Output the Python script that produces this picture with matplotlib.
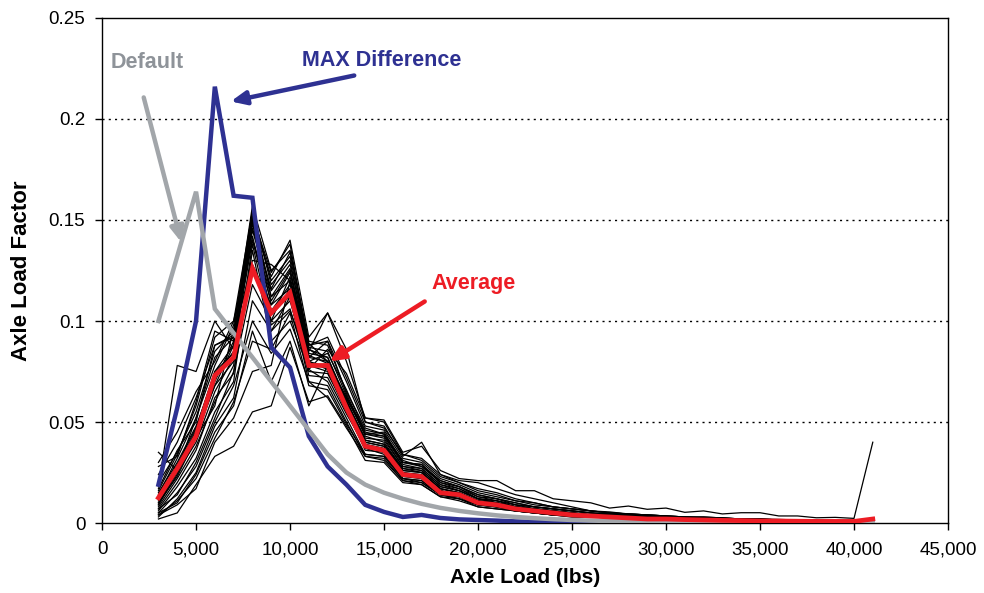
import numpy as np
import matplotlib
matplotlib.use("Agg")
import matplotlib.pyplot as plt
from matplotlib.ticker import FuncFormatter

plt.rcParams['font.family'] = ['Liberation Sans Narrow', 'Liberation Sans', 'DejaVu Sans']

axle_load = [3000, 4000, 5000, 6000, 7000, 8000, 9000, 10000, 11000, 12000,
             13000, 14000, 15000, 16000, 17000, 18000, 19000, 20000, 21000, 22000,
             23000, 24000, 25000, 26000, 27000, 28000, 29000, 30000, 31000, 32000,
             33000, 34000, 35000, 36000, 37000, 38000, 39000, 40000, 41000]

max_difference = [0.019, 0.057, 0.100, 0.216, 0.162, 0.161, 0.087, 0.077, 0.043, 0.028,
                  0.019, 0.009, 0.0055, 0.003, 0.004, 0.0025, 0.0018, 0.0015, 0.0012, 0.0008,
                  0.0005, 0.0004, 0.0003, 0.0002, 0.0002, 0.0001, 0.0001, 0.0001, 0.0001, 0.0,
                  0.0, 0.0, 0.0, 0.0, 0.0, 0.0, 0.0, 0.0, 0.0]

default = [0.100, 0.132, 0.164, 0.106, 0.094, 0.082, 0.070, 0.058, 0.046, 0.034,
           0.025, 0.019, 0.015, 0.012, 0.0095, 0.0075, 0.006, 0.0048, 0.0038, 0.003,
           0.0024, 0.0019, 0.0015, 0.0012, 0.001, 0.0008, 0.0007, 0.0006, 0.0005, 0.0004,
           0.0004, 0.0003, 0.0003, 0.0003, 0.0002, 0.0002, 0.0002, 0.0002, 0.0002]

average = [0.0125, 0.027, 0.043, 0.073, 0.082, 0.126, 0.104, 0.114, 0.078, 0.078,
           0.057, 0.038, 0.036, 0.024, 0.023, 0.015, 0.014, 0.010, 0.009, 0.007,
           0.006, 0.005, 0.004, 0.0035, 0.003, 0.0025, 0.002, 0.002, 0.0017, 0.0015,
           0.0013, 0.0012, 0.001, 0.001, 0.0009, 0.0008, 0.0008, 0.0008, 0.002]

# individual sites, in units of 0.001
sites = [
    [18, 78, 75, 100, 86, 140, 110, 125, 86, 80, 62, 46, 44, 31, 28, 21, 18, 14, 12, 10, 8, 7, 6, 5, 4.5, 4, 3.5, 3, 2.5, 2.5, 2, 2, 1.5, 1.5, 1.2, 1.2, 1, 1, 1.2],
    [35, 26, 52, 82, 92, 155, 118, 130, 84, 82, 60, 42, 41, 28, 26, 18, 16, 12, 10, 8, 7, 6, 5, 4, 3.5, 3, 3, 2.5, 2, 2, 1.8, 1.5, 1.5, 1.2, 1, 1, 0.8, 0.8, 1],
    [2, 5, 19, 33, 38, 55, 58, 87, 60, 63, 48, 31, 30, 20, 19, 13, 11, 8, 7, 6, 5, 4, 3, 3, 2.5, 2, 2, 1.5, 1.5, 1.2, 1, 1, 0.8, 0.8, 0.6, 0.6, 0.5, 0.5, 0.5],
    [4, 9, 17, 40, 52, 75, 78, 120, 80, 76, 57, 39, 37, 25, 23, 16, 14, 10, 9, 7, 6, 5, 4, 3.5, 3, 3, 2.5, 2, 2, 1.5, 1.5, 1.2, 1, 1, 1, 0.8, 0.8, 0.8, 1],
    [10, 25, 40, 65, 82, 150, 100, 110, 78, 75, 55, 37, 34, 22, 21, 14, 13, 9, 8, 7, 6, 5, 4, 3, 3, 2.5, 2, 2, 1.5, 1.5, 1.2, 1, 1, 0.8, 0.8, 0.8, 0.6, 0.6, 1.5],
    [8, 22, 38, 60, 78, 152, 95, 105, 80, 77, 60, 40, 38, 25, 24, 16, 14, 10, 9, 7, 6, 5, 4, 3.5, 3, 3, 2.5, 2, 2, 1.5, 1.5, 1.2, 1.2, 1, 1, 0.8, 0.8, 0.8, 0.8],
    [15, 30, 48, 72, 85, 145, 112, 120, 88, 90, 70, 48, 46, 32, 30, 22, 19, 15, 13, 11, 9, 8, 7, 6, 5, 4.5, 4, 3.5, 3, 3, 2.5, 2, 2, 1.8, 1.5, 1.5, 1.2, 1.2, 1.2],
    [12, 28, 45, 68, 80, 128, 108, 116, 79, 78, 56, 36, 35, 23, 22, 15, 14, 10, 9, 7, 6, 5, 4, 4, 3.5, 3, 2.5, 2.5, 2, 2, 1.5, 1.5, 1.2, 1.2, 1, 1, 0.8, 0.8, 0.8],
    [6, 18, 32, 55, 70, 135, 90, 100, 76, 70, 52, 34, 33, 22, 20, 14, 12, 9, 8, 6, 5, 4, 4, 3, 3, 2.5, 2, 2, 1.5, 1.5, 1.2, 1.2, 1, 1, 0.8, 0.8, 0.6, 0.6, 0.6],
    [20, 35, 55, 85, 95, 157, 125, 135, 90, 88, 65, 47, 44, 30, 29, 20, 18, 13, 12, 9, 8, 7, 6, 5, 4.5, 4, 3.5, 3, 2.5, 2.5, 2, 2, 1.5, 1.5, 1.2, 1.2, 1, 1, 1],
    [3, 12, 25, 48, 62, 110, 95, 112, 73, 72, 54, 38, 36, 24, 22, 15, 13, 10, 9, 7, 6, 5, 4, 3.5, 3, 2.5, 2.5, 2, 1.5, 1.5, 1.2, 1.2, 1, 1, 0.8, 0.8, 0.8, 0.6, 0.8],
    [14, 32, 52, 78, 98, 150, 122, 140, 92, 104, 80, 52, 51, 35, 38, 26, 22, 21, 21, 16, 16, 12, 11, 10, 7.4, 8.4, 6.8, 7.4, 5.3, 6, 4.5, 5.1, 5.1, 3.5, 3.5, 2.6, 2.8, 2.3, 40],
    [9, 24, 44, 70, 90, 146, 115, 128, 88, 92, 72, 50, 48, 33, 40, 24, 21, 20, 17, 14, 12, 10, 8, 6, 5.5, 4.5, 4, 3.5, 3, 3, 2.5, 2, 2, 1.5, 1.5, 1.2, 1, 1, 1],
    [11, 27, 46, 75, 88, 142, 105, 118, 85, 104, 86, 50, 47, 34, 31, 23, 20, 16, 14, 11, 10, 8, 7, 6, 5, 4.5, 4, 3.5, 3, 2.5, 2.5, 2, 2, 1.5, 1.5, 1.2, 1.2, 1, 1],
    [7, 14, 30, 52, 75, 118, 100, 122, 82, 90, 64, 44, 42, 28, 27, 19, 17, 12, 11, 9, 7, 6, 5, 4, 4, 3.5, 3, 2.5, 2, 2, 1.8, 1.5, 1.5, 1.2, 1.2, 1, 1, 0.8, 0.8],
    [16, 34, 58, 92, 100, 154, 120, 132, 87, 85, 63, 43, 40, 27, 26, 18, 16, 12, 10, 8, 7, 6, 5, 4, 3.5, 3, 3, 2.5, 2, 2, 1.5, 1.5, 1.2, 1.2, 1, 1, 0.8, 0.8, 1],
    [5, 15, 28, 50, 68, 100, 84, 96, 70, 68, 50, 33, 32, 21, 19, 13, 12, 8, 7, 6, 5, 4, 3, 3, 2.5, 2, 2, 1.5, 1.5, 1.2, 1, 1, 0.8, 0.8, 0.6, 0.6, 0.5, 0.5, 0.6],
    [13, 29, 47, 75, 84, 150, 108, 124, 83, 79, 59, 41, 39, 26, 25, 17, 15, 11, 10, 8, 7, 6, 5, 4, 3.5, 3, 2.5, 2.5, 2, 2, 1.5, 1.5, 1.2, 1, 1, 0.8, 0.8, 0.8, 0.8],
    [24, 40, 62, 88, 93, 148, 116, 134, 89, 80, 62, 44, 43, 30, 28, 20, 17, 13, 11, 9, 8, 7, 6, 5, 4, 4, 3, 3, 2.5, 2, 2, 1.5, 1.5, 1.2, 1.2, 1, 1, 1, 1],
    [7, 20, 36, 62, 74, 138, 98, 106, 75, 74, 56, 37, 36, 24, 23, 16, 14, 10, 9, 7, 6, 5, 4, 3.5, 3, 2.5, 2, 2, 2, 1.5, 1.5, 1.2, 1, 1, 0.8, 0.8, 0.8, 0.6, 0.8],
    [10, 23, 42, 58, 96, 125, 103, 113, 80, 84, 66, 45, 43, 29, 27, 19, 16, 12, 11, 8, 7, 6, 5, 4, 3.5, 3, 3, 2.5, 2, 2, 1.5, 1.5, 1.2, 1.2, 1, 1, 0.8, 0.8, 0.8],
    [4, 11, 22, 42, 60, 90, 86, 104, 68, 66, 49, 34, 33, 22, 21, 14, 13, 9, 8, 6, 5, 4, 4, 3, 3, 2.5, 2, 2, 1.5, 1.5, 1.2, 1, 1, 0.8, 0.8, 0.6, 0.6, 0.6, 0.6],
    [28, 33, 60, 95, 90, 152, 124, 138, 86, 82, 61, 41, 39, 27, 25, 17, 15, 11, 10, 8, 7, 6, 5, 4, 3.5, 3, 2.5, 2.5, 2, 1.8, 1.5, 1.5, 1.2, 1.2, 1, 1, 0.8, 0.8, 1],
    [9, 26, 43, 68, 88, 155, 112, 126, 82, 80, 58, 40, 38, 26, 25, 17, 15, 11, 10, 8, 6, 5, 5, 4, 3.5, 3, 2.5, 2, 2, 1.5, 1.5, 1.2, 1.2, 1, 1, 0.8, 0.8, 0.8, 0.8],
    [30, 45, 65, 80, 100, 140, 105, 112, 70, 62, 47, 33, 31, 21, 20, 14, 12, 9, 8, 6, 5, 4, 4, 3, 3, 2.5, 2, 2, 1.5, 1.5, 1.2, 1, 1, 0.8, 0.8, 0.6, 0.6, 0.6, 0.6],
    [5, 10, 24, 45, 58, 95, 70, 90, 58, 78, 62, 44, 45, 30, 29, 21, 18, 14, 12, 10, 8, 7, 6, 5, 4, 3.5, 3, 2.5, 2.5, 2, 2, 1.5, 1.5, 1.2, 1.2, 1, 1, 0.8, 0.8],
    [17, 36, 50, 88, 92, 130, 128, 120, 76, 86, 74, 52, 50, 34, 32, 24, 20, 17, 15, 12, 10, 8, 7, 6, 5, 4.5, 4, 3.5, 3, 2.5, 2.5, 2, 2, 1.5, 1.5, 1.2, 1.2, 1, 1],
]

blue = "#2e3192"
red = "#ed1c24"
gray = "#a2a6aa"

fig = plt.figure(figsize=(9.84, 5.93), dpi=100)
ax = fig.add_axes([0.1037, 0.118, 0.8597, 0.8517])

for s in sites:
    ax.plot(axle_load, np.array(s) / 1000.0, color="black", lw=0.9, zorder=2)

ax.plot(axle_load, max_difference, color=blue, lw=3.2, zorder=3, solid_joinstyle="miter")
ax.plot(axle_load, default, color=gray, lw=3.2, zorder=4, solid_joinstyle="miter")
ax.plot(axle_load, average, color=red, lw=3.4, zorder=5, solid_joinstyle="miter")

ax.set_xlim(0, 45000)
ax.set_ylim(0, 0.25)
ax.set_xticks(range(0, 45001, 5000))
ax.set_yticks([0, 0.05, 0.1, 0.15, 0.2, 0.25])
ax.xaxis.set_major_formatter(FuncFormatter(lambda v, p: f"{int(v):,}"))
ax.yaxis.set_major_formatter(FuncFormatter(lambda v, p: "0" if v == 0 else f"{v:g}"))
ax.tick_params(labelsize=13.5, direction="out", length=5, width=1)
ax.tick_params(axis="x", pad=8)
ax.tick_params(axis="y", pad=7)

for yv in [0.05, 0.1, 0.15, 0.2]:
    ax.axhline(yv, color="black", lw=1, ls=(0, (1.5, 3)), zorder=1)

for sp in ax.spines.values():
    sp.set_linewidth(1.0)

ax.set_xlabel("Axle Load (lbs)", fontsize=15, fontweight="bold", labelpad=7)
ax.set_ylabel("Axle Load Factor", fontsize=16, fontweight="bold", labelpad=12)

head = "-|>,head_length=0.9,head_width=0.4"
ax.annotate("", xy=(4255, 0.1376), xytext=(2180, 0.212),
            arrowprops=dict(arrowstyle=head, color=gray, lw=3.2), zorder=6)
ax.text(2390, 0.228, "Default", color="#8e9399", fontsize=15.5, fontweight="bold",
        ha="center", va="center")

ax.annotate("", xy=(6700, 0.2084), xytext=(13560, 0.2218),
            arrowprops=dict(arrowstyle=head, color=blue, lw=3.2), zorder=6)
ax.text(14890, 0.2287, "MAX Difference", color=blue, fontsize=15.5, fontweight="bold",
        ha="center", va="center")

ax.annotate("", xy=(11970, 0.0792), xytext=(17290, 0.1104),
            arrowprops=dict(arrowstyle=head, color=red, lw=3.2), zorder=6)
ax.text(19790, 0.1188, "Average", color=red, fontsize=15.5, fontweight="bold",
        ha="center", va="center")

fig.savefig("out.png", dpi=100)
